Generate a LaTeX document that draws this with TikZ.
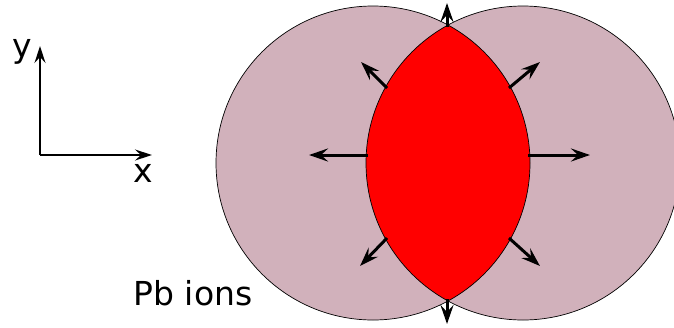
\documentclass[tikz,border=0pt]{standalone}
\usepackage{fontspec}
\setmainfont{DejaVu Sans}
\usetikzlibrary{arrows.meta}
\definecolor{ionpink}{RGB}{209,177,187}
\definecolor{overlapred}{RGB}{255,0,0}

\begin{document}
\begin{tikzpicture}[x=1pt, y=-1pt, font=\fontsize{33}{40}\selectfont,
  flow/.style={line width=3pt, -{Stealth[length=19pt, width=13pt, inset=7pt]}},
  axis/.style={line width=1.5pt, -{Stealth[length=17pt, width=11pt, inset=6pt]}}]
  \useasboundingbox (0,0) rectangle (674,327);

  % AXES
  \coordinate (origin) at (40,155);
  \coordinate (xend) at (152,155);
  \coordinate (yend) at (40,46);
  \draw[axis] (origin) -- (xend);
  \draw[axis] (origin) -- (yend);
  \node (ylabel) at (22,52) {y};
  \node (xlabel) at (143,173) {x};

  % ION DISCS
  \coordinate (left) at (373,163);
  \coordinate (right) at (523,163);
  \fill[ionpink] (left) circle[radius=157pt];
  \fill[ionpink] (right) circle[radius=157pt];
  % overlap region
  \begin{scope}
    \clip (left) circle[radius=157pt];
    \fill[overlapred] (right) circle[radius=157pt];
  \end{scope}
  \draw[line width=0.7pt] (left) circle[radius=157pt];
  \draw[line width=0.7pt] (right) circle[radius=157pt];

  % flow arrows out of the overlap
  \foreach \sx/\sy/\ex/\ey in {%
    447/27/447/3,     447/299/447/324,
    368/155/309/155,  528/155/590/155,
    387/88/361/62,    509/88/540/62,
    387/238/360/266,  509/238/540/266}
    \draw[flow] (\sx,\sy) -- (\ex,\ey);

  \node[anchor=base] (ions) at (193,305) {Pb ions};
\end{tikzpicture}
\end{document}
